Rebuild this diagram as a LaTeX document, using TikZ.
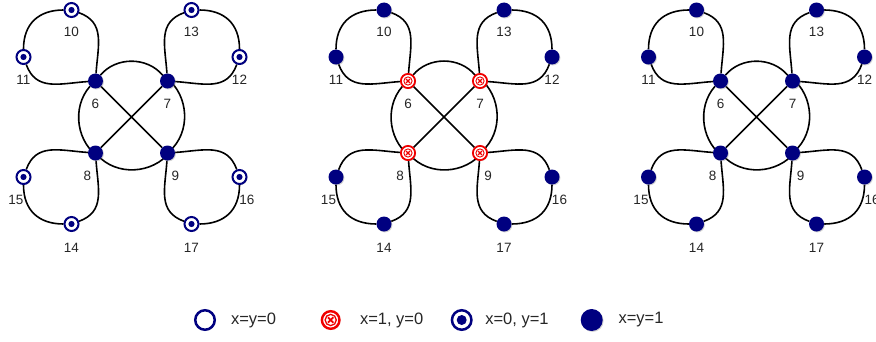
\documentclass[tikz,border=0pt]{standalone}
\usepackage{fontspec}
\setmainfont{Liberation Sans}
\usetikzlibrary{shadows}
\definecolor{navy}{RGB}{0,0,128}
\definecolor{xred}{RGB}{240,0,0}
\pgfdeclarelayer{bg}
\pgfdeclarelayer{paper}
\pgfsetlayers{paper,bg,main}
\tikzset{
  shd/.style={drop shadow={shadow xshift=0.9pt,shadow yshift=-0.9pt,opacity=0.35}},
  conn/.style={line width=1.6pt, black},
  lbl/.style={font=\fontsize{13.5}{15}\selectfont, text=black!85, inner sep=0pt},
  ltxt/.style={font=\fontsize{16.5}{19}\selectfont, text=black!85, inner sep=0pt, anchor=west},
  fnode/.style={circle, fill=navy, minimum size=15pt, inner sep=0pt, shd},
  dnode/.style={circle, draw=navy, line width=2pt, fill=white, minimum size=14pt, inner sep=0pt, shd,
    path picture={\fill[navy] (path picture bounding box.center) circle (3.1pt);}},
  rnode/.style={circle, draw=xred, line width=1.8pt, fill=white, minimum size=14.2pt, inner sep=0pt, shd,
    path picture={\draw[xred, line width=0.9pt] (path picture bounding box.center) circle (4.1pt);
      \draw[xred, line width=1.1pt] ([shift={(-1.9pt,-1.9pt)}]path picture bounding box.center) -- ([shift={(1.9pt,1.9pt)}]path picture bounding box.center)
        ([shift={(-1.9pt,1.9pt)}]path picture bounding box.center) -- ([shift={(1.9pt,-1.9pt)}]path picture bounding box.center);}},
  lempty/.style={circle, draw=navy, line width=2.5pt, fill=white, minimum size=19.5pt, inner sep=0pt, shd},
  ldot/.style={circle, draw=navy, line width=2.5pt, fill=white, minimum size=19.5pt, inner sep=0pt, shd,
    path picture={\fill[navy] (path picture bounding box.center) circle (5pt);}},
  lfill/.style={circle, fill=navy, minimum size=22pt, inner sep=0pt, shd},
  lred/.style={circle, draw=xred, line width=2.4pt, fill=white, minimum size=17.6pt, inner sep=0pt, shd,
    path picture={\draw[xred, line width=1.3pt] (path picture bounding box.center) circle (5.6pt);
      \draw[xred, line width=1.8pt] ([shift={(-2.7pt,-2.7pt)}]path picture bounding box.center) -- ([shift={(2.7pt,2.7pt)}]path picture bounding box.center)
        ([shift={(-2.7pt,2.7pt)}]path picture bounding box.center) -- ([shift={(2.7pt,-2.7pt)}]path picture bounding box.center);}},
}
\newcommand\mypanel[4]{%
\begin{scope}[shift={(#2,224)}]
  \node[#3] (#1-6) at (-36,36) {};
  \node[#3] (#1-7) at (36,36) {};
  \node[#3] (#1-8) at (-36,-36) {};
  \node[#3] (#1-9) at (36,-36) {};
  \node[#4] (#1-10) at (-60,107) {};
  \node[#4] (#1-11) at (-108,60) {};
  \node[#4] (#1-13) at (60,107) {};
  \node[#4] (#1-12) at (108,60) {};
  \node[#4] (#1-15) at (-108,-60) {};
  \node[#4] (#1-14) at (-60,-107) {};
  \node[#4] (#1-16) at (108,-60) {};
  \node[#4] (#1-17) at (60,-107) {};
  \node[lbl] (#1-l6) at (-36,13.5) {6};
  \node[lbl] (#1-l7) at (36,13.5) {7};
  \node[lbl] (#1-l8) at (-44,-58.5) {8};
  \node[lbl] (#1-l9) at (44,-58.5) {9};
  \node[lbl] (#1-l10) at (-60,85) {10};
  \node[lbl] (#1-l13) at (60,85) {13};
  \node[lbl] (#1-l11) at (-108,37.5) {11};
  \node[lbl] (#1-l12) at (108,37.5) {12};
  \node[lbl] (#1-l15) at (-115.5,-82.5) {15};
  \node[lbl] (#1-l16) at (115.5,-82.5) {16};
  \node[lbl] (#1-l14) at (-60,-130.5) {14};
  \node[lbl] (#1-l17) at (60,-130.5) {17};
  \begin{pgfonlayer}{bg}
    \draw[conn] (#1-6) to[bend left=50] (#1-7) to[bend left=50] (#1-9) to[bend left=50] (#1-8) to[bend left=50] (#1-6);
    \draw[conn] (#1-6) -- (#1-9) (#1-7) -- (#1-8);
    \draw[conn,looseness=1.15] (#1-6) to[out=86,in=-20] (#1-10) to[out=180,in=90] (#1-11) to[out=-70,in=184] (#1-6);
    \draw[conn,looseness=1.15] (#1-7) to[out=94,in=200] (#1-13) to[out=0,in=90] (#1-12) to[out=250,in=-4] (#1-7);
    \draw[conn,looseness=1.15] (#1-8) to[out=-86,in=20] (#1-14) to[out=180,in=-90] (#1-15) to[out=70,in=176] (#1-8);
    \draw[conn,looseness=1.15] (#1-9) to[out=-94,in=160] (#1-17) to[out=0,in=-90] (#1-16) to[out=110,in=4] (#1-9);
  \end{pgfonlayer}
\end{scope}}
\begin{document}
\begin{tikzpicture}[x=1pt,y=1pt]
  \useasboundingbox (0,0) rectangle (876,341);
  \begin{pgfonlayer}{paper}
    \fill[white] (0,0) rectangle (876,341);
  \end{pgfonlayer}
  \mypanel{a}{131.5}{fnode}{dnode}
  \mypanel{b}{444}{rnode}{fnode}
  \mypanel{c}{756.5}{fnode}{fnode}
  % legend
  \node[lempty] (k1) at (205,21) {};
  \node[ltxt] (t1) at (230.8,21) {x=y=0};
  \node[lred] (k2) at (330.7,21) {};
  \node[ltxt] (t2) at (359.8,21) {x=1, y=0};
  \node[ldot] (k3) at (461.7,21) {};
  \node[ltxt] (t3) at (485.1,21) {x=0, y=1};
  \node[lfill] (k4) at (591.7,21) {};
  \node[ltxt] (t4) at (618.4,21) {x=y=1};
\end{tikzpicture}
\end{document}
